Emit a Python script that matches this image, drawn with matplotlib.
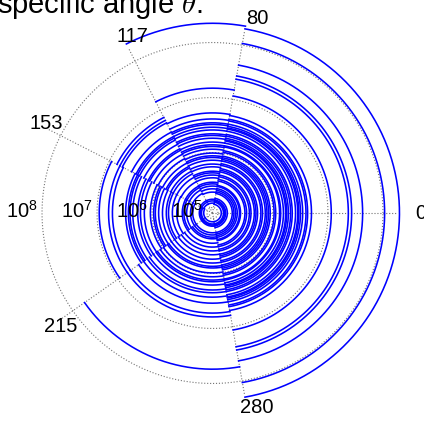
import numpy as np
import matplotlib.pyplot as plt
import matplotlib.transforms as mtransforms

# angular ticks (degrees) - they are also the sector edges
angle_ticks = [0, 80, 117, 153, 215, 280]
sectors = [(-80, 80), (80, 117), (117, 153), (153, 215), (215, 280)]

# arc radii in each sector, as log10(radius)
right_arcs = [8.30, 8.03, 7.63, 7.43, 7.37, 7.06, 6.70,
              6.63, 6.60, 6.54, 6.50, 6.47, 6.45, 6.41, 6.35, 6.32, 6.28,
              6.25, 6.23, 6.19, 6.14, 6.12, 6.05, 6.02, 5.95, 5.92, 5.89,
              5.86, 5.81, 5.78, 5.72, 5.69, 5.66, 5.60, 5.57, 5.52, 5.49,
              5.41, 5.39, 5.35, 5.32, 5.29, 5.26, 5.17, 5.14, 5.12, 5.10,
              5.06]
top_arcs = [8.35, 7.17, 6.72, 6.61, 6.54, 6.51, 6.46, 6.41, 6.34, 6.31,
            6.26, 6.19, 6.14, 6.11, 6.06, 5.99, 5.94, 5.91, 5.86, 5.79,
            5.74, 5.66, 5.63, 5.59, 5.54, 5.46, 5.43, 5.39, 5.34, 5.28,
            5.15, 5.12, 5.08]
upper_left_arcs = [6.85, 6.79, 6.74, 6.55, 6.46, 6.43, 6.39, 6.30, 6.21,
                   6.18, 6.10, 6.01, 5.92, 5.85, 5.82, 5.75, 5.70, 5.63,
                   5.54, 5.45, 5.42, 5.37, 5.30, 5.15, 5.12, 5.08]
left_arcs = [6.96, 6.79, 6.72, 6.48, 6.43, 6.40, 6.35, 6.26, 6.21, 6.14,
             6.03, 5.97, 5.94, 5.88, 5.81, 5.74, 5.70, 5.63, 5.55, 5.45,
             5.42, 5.37, 5.30, 5.26, 5.14, 5.12, 5.10, 5.06]
lower_left_arcs = [7.74, 6.79, 6.72, 6.54, 6.43, 6.35, 6.30, 6.21, 6.15,
                   6.12, 6.06, 5.99, 5.90, 5.87, 5.81, 5.74, 5.66, 5.59,
                   5.52, 5.45, 5.37, 5.34, 5.30, 5.26, 5.14, 5.12, 5.10,
                   5.06]
arcs = [right_arcs, top_arcs, upper_left_arcs, left_arcs, lower_left_arcs]

radial_ticks = [5, 6, 7, 8]
radial_labels = [r"$\mathregular{10^{5}}$", r"$\mathregular{10^{6}}$",
                 r"$\mathregular{10^{7}}$", r"$\mathregular{10^{8}}$"]

r_min, r_max = 4.9, 8.255

plt.rcParams['font.family'] = ['Liberation Sans Narrow', 'Liberation Sans', 'DejaVu Sans']
plt.rcParams['mathtext.fontset'] = 'cm'

fig = plt.figure(figsize=(4.24, 4.21), dpi=100)
ax = fig.add_axes([28 / 424, 23.5 / 421, 369 / 424, 369 / 421], projection='polar')
ax.set_rlim(r_min, r_max)
ax.set_axis_off()

# dotted rings and spokes
circle = np.linspace(0, 2 * np.pi, 361)
for r in radial_ticks:
    ax.plot(circle, np.full_like(circle, r), ls=':', color='0.45', lw=0.8, clip_on=False)
for a in angle_ticks:
    ax.plot([np.radians(a)] * 2, [r_min, r_max], ls=':', color='0.45', lw=0.8)

# arcs (sampled finely so they render as circles)
for (a0, a1), radii in zip(sectors, arcs):
    th = np.radians(np.linspace(a0, a1, 150))
    for r in radii:
        ax.plot(th, np.full_like(th, r), color='#0000ff', lw=1.15, clip_on=False)

# angle labels
shift = mtransforms.offset_copy(ax.transData, fig=fig, x=10, y=0, units='dots')
for a in angle_ticks:
    ax.text(np.radians(a), r_min + 198 / 55, str(a), transform=shift,
            ha='center', va='center', fontsize=14.5, clip_on=False)

# radial labels on the left
shift_r = mtransforms.offset_copy(ax.transData, fig=fig, x=-4, y=2, units='dots')
for r, lab in zip(radial_ticks, radial_labels):
    ax.text(np.pi, r, lab, transform=shift_r, ha='right', va='center',
            fontsize=14.5, clip_on=False)

fig.text(-3 / 424, 1 - 13 / 421, r"specific angle $\theta$:", ha='left', va='baseline',
         fontsize=21, family=['Liberation Sans', 'DejaVu Sans'])

fig.savefig('out.png', dpi=100)
